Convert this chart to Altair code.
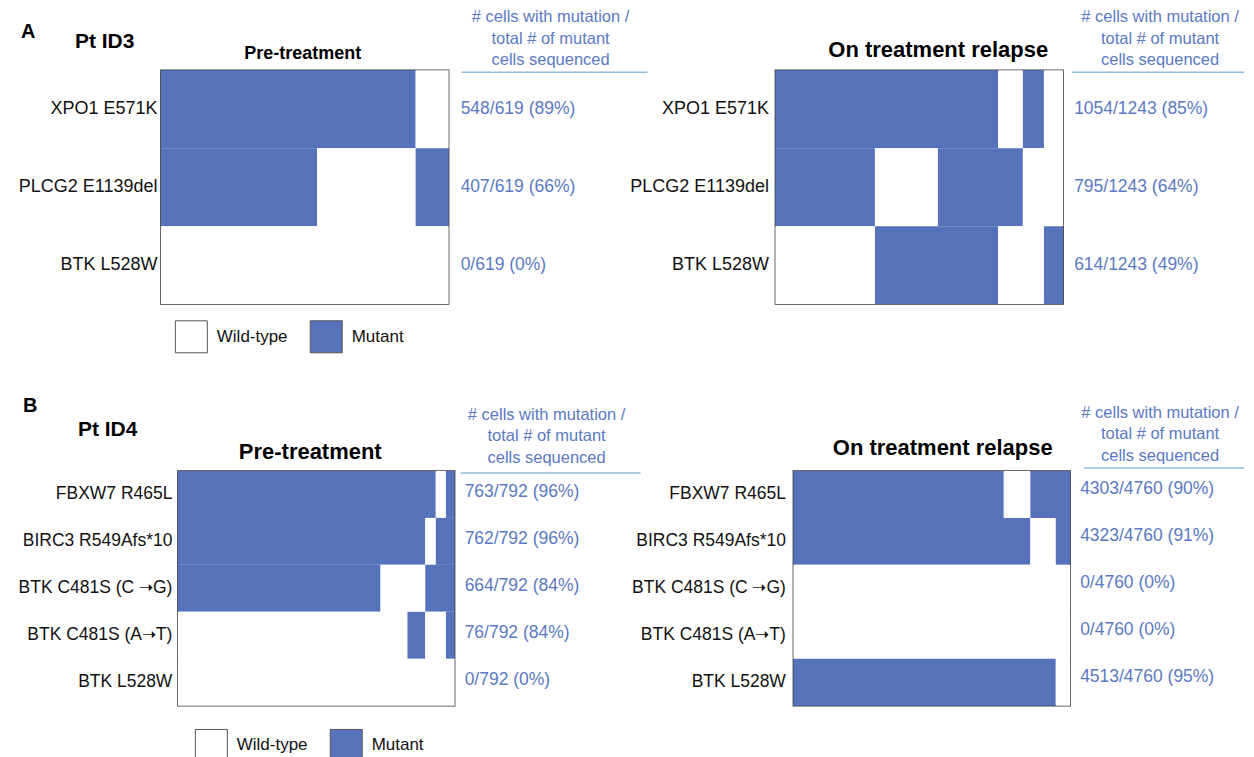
import altair as alt
import pandas as pd

BLUE = "#5672ba"
TEXT_BLUE = "#5b79c2"
RULE_COLOR = "#92bddc"
FONT = "Liberation Sans"

HEADER_TEXT = "# cells with mutation /\ntotal # of mutant\ncells sequenced"
STATES = ["Wild-type", "Mutant"]

# ---------------- Panel A (Pt ID3) ----------------
a_genes = ["XPO1 E571K", "PLCG2 E1139del", "BTK L528W"]

a_pre_total = 619
a_pre_mutant = [[(0, 548)], [(0, 336), (548, 619)], []]
a_pre_counts = ["548/619 (89%)", "407/619 (66%)", "0/619 (0%)"]

a_rel_total = 1243
a_rel_mutant = [[(0, 962), (1069, 1160)], [(0, 430), (702, 1069)], [(430, 962), (1160, 1243)]]
a_rel_counts = ["1054/1243 (85%)", "795/1243 (64%)", "614/1243 (49%)"]

# ---------------- Panel B (Pt ID4) ----------------
b_genes = ["FBXW7 R465L", "BIRC3 R549Afs*10", "BTK C481S (C \u279dG)", "BTK C481S (A\u279dT)", "BTK L528W"]

b_pre_total = 792
b_pre_mutant = [[(0, 738), (767, 792)], [(0, 708), (738, 792)], [(0, 580), (708, 792)],
                [(657, 708), (767, 792)], []]
b_pre_counts = ["763/792 (96%)", "762/792 (96%)", "664/792 (84%)", "76/792 (84%)", "0/792 (0%)"]

b_rel_total = 4760
b_rel_mutant = [[(0, 3619), (4076, 4760)], [(0, 4076), (4513, 4760)], [], [], [(0, 4513)]]
b_rel_counts = ["4303/4760 (90%)", "4323/4760 (91%)", "0/4760 (0%)", "0/4760 (0%)", "4513/4760 (95%)"]

ONE = pd.DataFrame({"k": [0]})


def segments(genes, total, mutant):
    rows = []
    for g, segs in zip(genes, mutant):
        pos = 0
        for s, e in sorted(segs):
            if s > pos:
                rows.append((g, pos, s, "Wild-type"))
            rows.append((g, s, e, "Mutant"))
            pos = e
        if pos < total:
            rows.append((g, pos, total, "Wild-type"))
    return pd.DataFrame(rows, columns=["gene", "start", "end", "state"])


def text_layer(text, x, y, size, bold=False, align="center", color="black"):
    df = pd.DataFrame({"t": [text]})
    kw = dict(align=align, baseline="alphabetic", fontSize=size, font=FONT, color=color)
    if bold:
        kw["fontWeight"] = "bold"
    return alt.Chart(df).mark_text(**kw).encode(x=alt.value(x), y=alt.value(y), text="t:N")


def marker(x, y):
    return alt.Chart(ONE).mark_point(opacity=0, size=1, shape="square").encode(
        x=alt.value(x), y=alt.value(y))


def panel(genes, total, mutant, counts, w, h, c):
    seg = segments(genes, total, mutant)
    if c.get("legend"):
        lx, ly = c["legend"]
        legend = alt.Legend(orient="none", legendX=lx, legendY=ly, direction="horizontal",
                            title=None, symbolType="square", symbolSize=1024,
                            symbolStrokeColor="#555555", symbolStrokeWidth=1,
                            labelFontSize=17, labelFont=FONT, labelColor="#111111",
                            labelOffset=9, columnPadding=20)
    else:
        legend = None
    y_axis = alt.Axis(title=None, ticks=False, tickSize=0, domain=False,
                      labelFontSize=c["label_fs"], labelFont=FONT, labelColor="#111111",
                      labelPadding=c["label_pad"], labelLimit=400)
    y_scale = alt.Scale(paddingInner=0, paddingOuter=0)
    rects = alt.Chart(seg).mark_rect().encode(
        x=alt.X("start:Q", scale=alt.Scale(domain=[0, total], nice=False, zero=False), axis=None),
        x2="end:Q",
        y=alt.Y("gene:N", sort=genes, scale=y_scale, axis=y_axis),
        color=alt.Color("state:N", scale=alt.Scale(domain=STATES, range=["#ffffff", BLUE]),
                        legend=legend),
    )
    cnt = pd.DataFrame({"gene": genes, "count": counts})
    vals = alt.Chart(cnt).mark_text(align="left", baseline="middle", font=FONT, fontSize=17.5,
                                    color=TEXT_BLUE, dy=c["val_dy"]).encode(
        x=alt.value(w + c["val_dx"]),
        y=alt.Y("gene:N", sort=genes, scale=y_scale, axis=y_axis),
        text="count:N",
    )
    header = alt.Chart(pd.DataFrame({"t": [HEADER_TEXT]})).mark_text(
        align="center", baseline="alphabetic", lineBreak="\n", lineHeight=21.5,
        fontSize=16.5, font=FONT, color=TEXT_BLUE).encode(
        x=alt.value(w + c["hdr_dx"]), y=alt.value(c["hdr_y"]), text="t:N")
    rule = alt.Chart(ONE).mark_rule(color=RULE_COLOR, strokeWidth=1.5).encode(
        x=alt.value(c["rule"][0]), x2=alt.value(c["rule"][1]), y=alt.value(c["rule"][2]))
    title = text_layer(c["title"], w / 2 + c["title_dx"], c["title_y"], c["title_fs"], bold=True)
    layers = [rects, vals, header, rule, title] + c.get("extra", [])
    return alt.layer(*layers).properties(width=w, height=h)


def spacer(w):
    return alt.Chart(ONE).mark_point(opacity=0, size=1).encode(
        x=alt.value(0), y=alt.value(0)).properties(
        width=w, height=10, view=alt.ViewBackground(stroke="transparent"))


a_pre = panel(a_genes, a_pre_total, a_pre_mutant, a_pre_counts, 288, 234, dict(
    label_fs=18, label_pad=4, val_dx=12, val_dy=0, hdr_dx=102, hdr_y=-48,
    rule=(301, 487, 2), title="Pre-treatment", title_dx=-2, title_y=-11, title_fs=18,
    legend=(14, 250),
    extra=[text_layer("A", -140, -32, 20, bold=True, align="left"),
           text_layer("Pt ID3", -86, -22, 21, bold=True, align="left"),
           marker(-151, -60), marker(0, 300)]))

a_rel = panel(a_genes, a_rel_total, a_rel_mutant, a_rel_counts, 288, 234, dict(
    label_fs=18, label_pad=7, val_dx=11, val_dy=0, hdr_dx=97, hdr_y=-48,
    rule=(297, 469, 2), title="On treatment relapse", title_dx=19, title_y=-13, title_fs=22))

b_pre = panel(b_genes, b_pre_total, b_pre_mutant, b_pre_counts, 277, 235, dict(
    label_fs=17.5, label_pad=6, val_dx=10, val_dy=-2, hdr_dx=92, hdr_y=-51,
    rule=(283, 463, 2), title="Pre-treatment", title_dx=-6, title_y=-12, title_fs=22,
    legend=(17, 258),
    extra=[text_layer("B", -155, -59, 20, bold=True, align="left"),
           text_layer("Pt ID4", -100, -35, 21, bold=True, align="left"),
           marker(0, -89)]))

b_rel = panel(b_genes, b_rel_total, b_rel_mutant, b_rel_counts, 277, 235, dict(
    label_fs=17.5, label_pad=8, val_dx=10, val_dy=-5, hdr_dx=90, hdr_y=-53,
    rule=(291, 451, -3), title="On treatment relapse", title_dx=11, title_y=-16, title_fs=22))

row_a = alt.hconcat(a_pre, spacer(327), a_rel, spacing=0, bounds="flush").resolve_scale(color="independent")
row_b = alt.hconcat(spacer(17), b_pre, spacer(339), b_rel, spacing=0, bounds="flush").resolve_scale(color="independent")

chart = alt.vconcat(row_a, row_b, spacing=8).resolve_scale(color="independent").properties(
    padding=0
).configure(font=FONT).configure_view(stroke="#3a3a3a", strokeWidth=1.5)

chart.save("out.html", embed_options={"renderer": "svg", "actions": False})
